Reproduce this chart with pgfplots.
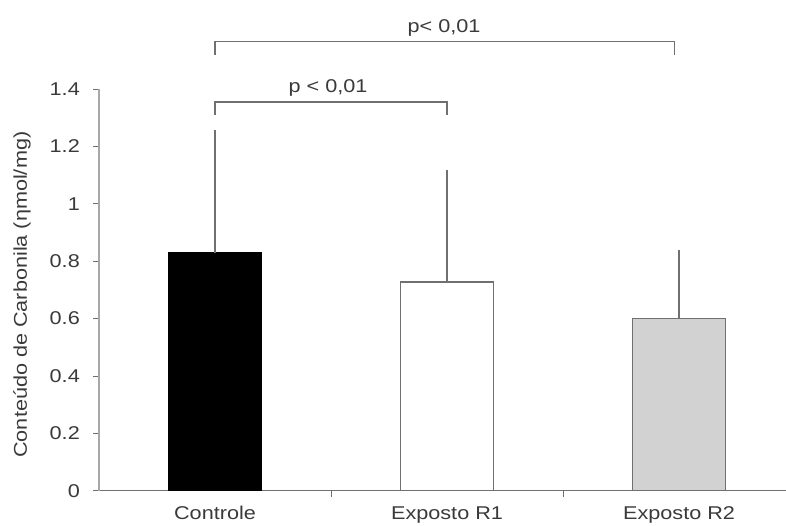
\documentclass[border=0pt]{standalone}
\usepackage{fontspec}
\setmainfont[FakeStretch=1.17]{Liberation Sans}
\usepackage{pgfplots}
\pgfplotsset{compat=1.18}
\definecolor{txt}{HTML}{3A3A3A}
\definecolor{axgray}{HTML}{A8A8A8}
\definecolor{edge}{HTML}{707070}
\definecolor{barg}{HTML}{D2D2D2}
\begin{document}
\begin{tikzpicture}[x=1pt,y=1pt]
\useasboundingbox (0,0) rectangle (786,526);
\begin{axis}[
  at={(99pt,35.3pt)}, anchor=south west,
  scale only axis, width=687pt, height=401.7pt,
  xmin=-0.5, xmax=2.461, ymin=0, ymax=1.4,
  clip=false,
  axis x line=bottom, axis y line=left,
  axis line style={-},
  x axis line style={draw=edge, line width=1.2pt},
  y axis line style={draw=axgray, line width=2.2pt},
  xtick={0,1,2}, xticklabels={Controle, Exposto R1, Exposto R2},
  minor xtick={0.5,1.5},
  major x tick style={draw=none},
  ytick={0,0.2,0.4,0.6,0.8,1,1.2,1.4},
  tick align=outside, major tick length=6pt, minor tick length=6pt,
  tick style={draw=edge, line width=0.8pt},
  /pgf/number format/assume math mode=true,
  ticklabel style={font=\fontsize{18.5}{20}\selectfont, text=txt},
  xticklabel style={anchor=base, inner sep=0pt, yshift=-22.5pt},
  yticklabel style={anchor=east, inner sep=0pt, xshift=-13pt},
  ylabel={Conteúdo de Carbonila (ηmol/mg)},
  ylabel style={at={(axis description cs:-0.112,0.488)}, anchor=center, font=\fontsize{18.5}{20}\selectfont, text=txt},
]
\addplot[ybar, bar width=93pt, bar shift=0pt, fill=black, draw=black, line width=1pt,
  error bars/.cd, y dir=plus, y explicit,
  error bar style={edge, line width=1.2pt},
  error mark options={edge, line width=1.2pt, mark size=2pt}]
  coordinates {(0,0.830) +- (0,0.420)};
\addplot[ybar, bar width=93pt, bar shift=0pt, fill=white, draw=edge, line width=1.3pt,
  error bars/.cd, y dir=plus, y explicit,
  error bar style={edge, line width=1.2pt},
  error mark options={edge, line width=1.2pt, mark size=2pt}]
  coordinates {(1,0.727) +- (0,0.385)};
\addplot[ybar, bar width=93pt, bar shift=0pt, fill=barg, draw=edge, line width=1.3pt,
  error bars/.cd, y dir=plus, y explicit,
  error bar style={edge, line width=1.2pt},
  error mark options={edge, line width=1.2pt, mark size=2pt}]
  coordinates {(2,0.600) +- (0,0.233)};
\draw[edge, line width=1.3pt] (axis cs:0,1.309) -- (axis cs:0,1.355) -- (axis cs:1,1.355) -- (axis cs:1,1.309);
\draw[edge, line width=1.3pt] (axis cs:0,1.52) -- (axis cs:0,1.565) -- (axis cs:1.98,1.565) -- (axis cs:1.98,1.52);
\node[anchor=base, text=txt, font=\fontsize{18.5}{20}\selectfont, inner sep=0pt] at (axis cs:0.487,1.3886) {p < 0,01};
\node[anchor=base, text=txt, font=\fontsize{18.5}{20}\selectfont, inner sep=0pt] at (axis cs:0.987,1.598) {p< 0,01};
\end{axis}
\end{tikzpicture}
\end{document}
